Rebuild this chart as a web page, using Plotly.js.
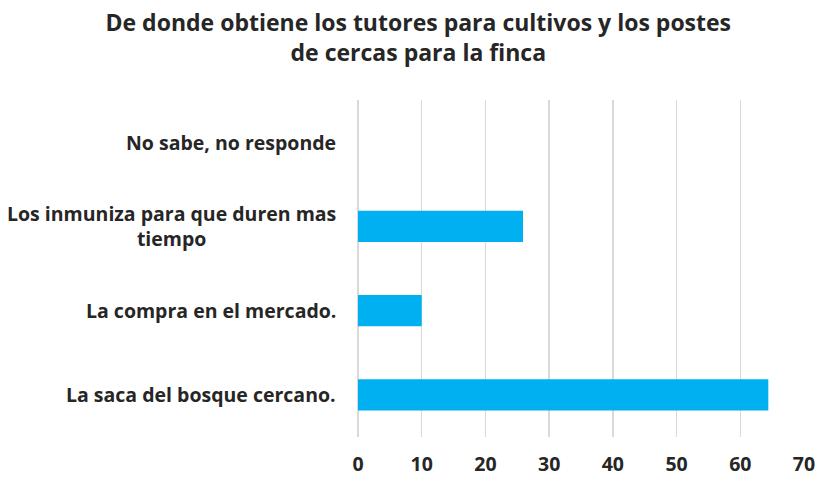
<!DOCTYPE html>
<html><head><meta charset="utf-8">
<script src="https://cdn.plot.ly/plotly-3.0.1.min.js"></script>
<style>html,body{margin:0;padding:0;background:#fff;}#chart{width:817px;height:477px;}</style>
</head><body><div id="chart"></div>
<script>
const categories = ["La saca del bosque cercano.", "La compra en el mercado.", "Los inmuniza para que duren mas<br>tiempo", "No sabe, no responde"];
const values = [64.4, 10, 25.9, 0];
const xTicks = [0, 10, 20, 30, 40, 50, 60, 70];
const titleText = "De donde obtiene los tutores para cultivos y los postes<br>de cercas para la finca";

const FONT = "Open Sans, sans-serif";
const annotations = categories.map(c => ({
  x: 0, xref: 'paper', xanchor: 'right', xshift: -20,
  y: c, yref: 'y', yanchor: 'middle',
  text: '<b>' + c + '</b>', showarrow: false, align: 'center',
  font: {family: FONT, size: 19.5, color: '#262626'}
}));

Plotly.newPlot('chart', [{
  type: 'bar', orientation: 'h', y: categories, x: values,
  marker: {color: '#00b0f0', line: {width: 0}}, hoverinfo: 'none'
}], {
  width: 817, height: 477,
  margin: {l: 358, r: 13, t: 100, b: 40},
  paper_bgcolor: '#fff', plot_bgcolor: '#fff',
  bargap: 0.63,
  title: {text: '<b>' + titleText + '</b>', x: 0.512, xanchor: 'center', yref: 'container', y: 0.935, yanchor: 'middle',
          font: {family: FONT, size: 23, color: '#262626'}},
  xaxis: {range: [0, 70], tickvals: xTicks, showgrid: true, gridcolor: '#d9d9d9', gridwidth: 1.5,
          zeroline: true, zerolinecolor: '#d9d9d9', zerolinewidth: 1.5, showline: false,
          ticks: '', ticklabelstandoff: 13,
          tickfont: {family: FONT, size: 19.5, color: '#262626', weight: 'bold'}, fixedrange: true},
  yaxis: {type: 'category', showticklabels: false, showgrid: false, zeroline: false, showline: false, ticks: '', fixedrange: true},
  annotations: annotations,
  showlegend: false
}, {displayModeBar: false, staticPlot: true});
</script></body></html>
